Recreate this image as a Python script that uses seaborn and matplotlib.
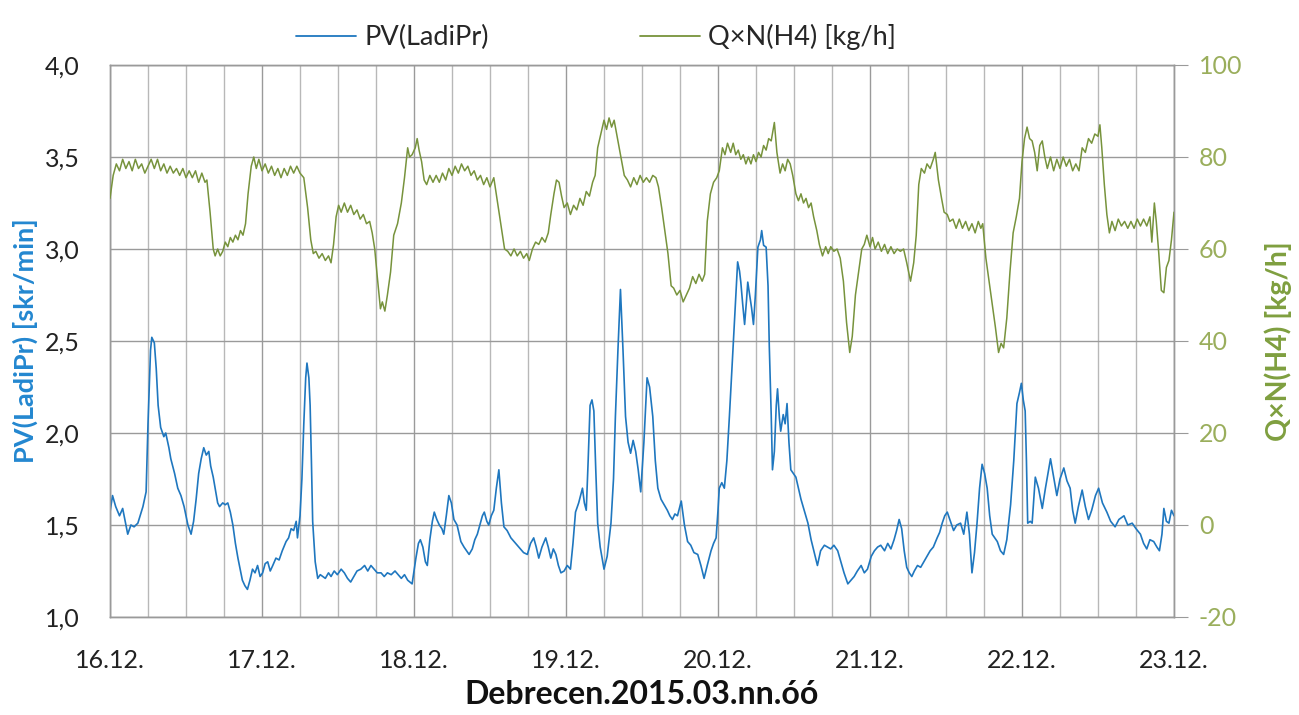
import numpy as np
import pandas as pd
import matplotlib
matplotlib.use("Agg")
import matplotlib.pyplot as plt
from matplotlib.ticker import FixedLocator, FuncFormatter
from matplotlib.lines import Line2D
import seaborn as sns

# ---------------- data (hours since 16.12. 00:00) ----------------
day_labels = ["16.12.", "17.12.", "18.12.", "19.12.", "20.12.", "21.12.", "22.12.", "23.12."]
pv_label = "PV(LadiPr)"
q_label = "Q×N(H4) [kg/h]"

pv_hours = [
    0, 0.4, 0.9, 1.5, 2.0, 2.4, 2.8, 3.3, 3.8, 4.4, 5.2, 5.7, 6.0, 6.4, 6.6, 7.0, 7.3, 7.6, 8.0, 8.5,
    8.8, 9.3, 9.6, 10.2, 10.7, 11.2, 11.7, 12.3, 12.8, 13.2, 13.6, 14.0, 14.4, 14.8, 15.2, 15.6, 15.9, 16.3, 16.7, 17.0,
    17.3, 17.8, 18.2, 18.6, 19.0, 19.4, 19.8, 20.2, 20.6, 20.9, 21.3, 21.7, 22.1, 22.5, 22.9, 23.3, 23.7, 24.1, 24.5, 24.9,
    25.3, 25.7, 26.2, 26.7, 27.2, 27.8, 28.2, 28.6, 29.0, 29.4, 29.6, 30.0, 30.3, 30.6, 30.9, 31.1, 31.4, 31.6, 31.8, 32.0,
    32.4, 32.8, 33.2, 33.6, 34.0, 34.5, 34.9, 35.4, 35.9, 36.5, 37.0, 37.5, 38.0, 38.5, 39.0, 39.6, 40.2, 40.7, 41.2, 41.7,
    42.2, 42.8, 43.3, 43.8, 44.4, 45.0, 45.5, 46.0, 46.5, 47.0, 47.7, 48.0, 48.3, 48.7, 49.0, 49.4, 49.8, 50.1, 50.5, 50.9,
    51.2, 51.6, 52.0, 52.4, 52.7, 53.1, 53.5, 53.9, 54.3, 54.8, 55.4, 55.9, 56.3, 56.7, 57.2, 57.6, 58.0, 58.4, 58.8, 59.1,
    59.5, 59.8, 60.2, 60.6, 61.0, 61.4, 61.8, 62.2, 62.7, 63.3, 63.8, 64.3, 64.8, 65.3, 65.9, 66.4, 66.9, 67.3, 67.7, 68.2,
    68.8, 69.2, 69.6, 70.0, 70.4, 70.8, 71.2, 71.7, 72.2, 72.7, 73.1, 73.5, 74.0, 74.3, 74.6, 74.9, 75.2, 75.5, 75.8, 76.1,
    76.4, 76.7, 77.0, 77.4, 78.0, 78.5, 79.1, 79.5, 79.8, 80.2, 80.6, 81.0, 81.4, 81.8, 82.2, 82.6, 83.0, 83.4, 83.8, 84.3,
    84.8, 85.2, 85.7, 86.1, 86.5, 87.0, 87.5, 88.0, 88.4, 88.8, 89.2, 89.6, 90.2, 90.7, 91.2, 91.7, 92.2, 92.8, 93.3, 93.8,
    94.3, 94.9, 95.3, 95.7, 96.0, 96.2, 96.6, 97.0, 97.4, 97.8, 98.2, 98.6, 99.1, 99.4, 99.6, 99.9, 100.2, 100.5, 100.7, 101.0,
    101.3, 101.6, 101.9, 102.3, 102.7, 102.9, 103.2, 103.6, 103.9, 104.1, 104.4, 104.6, 104.9, 105.2, 105.4, 105.7, 105.9, 106.3, 106.6, 106.9,
    107.2, 107.5, 107.9, 108.3, 108.7, 109.1, 109.6, 110.2, 110.7, 111.2, 111.7, 112.2, 112.8, 113.3, 113.8, 114.3, 114.9, 115.4, 115.9, 116.5,
    117.0, 117.5, 118.0, 118.6, 119.1, 119.6, 120.2, 120.7, 121.2, 121.7, 122.3, 122.8, 123.3, 123.8, 124.2, 124.6, 125.0, 125.4, 125.8, 126.2,
    126.6, 127.0, 127.5, 128.0, 128.5, 129.0, 129.5, 130.0, 130.6, 131.0, 131.4, 131.8, 132.2, 132.7, 133.2, 133.7, 134.3, 134.8, 135.3, 135.7,
    136.1, 136.5, 136.9, 137.3, 137.7, 138.1, 138.5, 138.9, 139.3, 139.7, 140.1, 140.6, 141.1, 141.6, 142.2, 142.7, 143.2, 143.6, 143.9, 144.2,
    144.5, 144.7, 144.9, 145.3, 145.6, 146.1, 146.6, 147.2, 147.7, 148.1, 148.5, 148.9, 149.5, 150.0, 150.6, 151.1, 151.6, 152.0, 152.4, 152.9,
    153.5, 154.0, 154.5, 155.0, 155.6, 156.1, 156.7, 157.4, 158.0, 158.7, 159.3, 160.1, 160.7, 161.4, 162.0, 162.7, 163.2, 163.7, 164.2, 164.8,
    165.3, 165.7, 166.1, 166.4, 166.8, 167.2, 167.6, 168.0,
]
pv_values = [
    1.57, 1.66, 1.60, 1.55, 1.59, 1.52, 1.45, 1.50, 1.49, 1.51, 1.60, 1.68, 2.05, 2.45, 2.52, 2.49, 2.35, 2.15, 2.03, 1.98,
    2.00, 1.92, 1.86, 1.78, 1.70, 1.66, 1.60, 1.50, 1.45, 1.52, 1.64, 1.78, 1.86, 1.92, 1.88, 1.90, 1.82, 1.76, 1.68, 1.62,
    1.60, 1.62, 1.61, 1.62, 1.57, 1.50, 1.40, 1.32, 1.25, 1.20, 1.17, 1.15, 1.20, 1.26, 1.24, 1.28, 1.22, 1.24, 1.29, 1.30,
    1.25, 1.28, 1.32, 1.31, 1.36, 1.41, 1.43, 1.48, 1.47, 1.52, 1.43, 1.55, 1.75, 2.05, 2.30, 2.38, 2.30, 2.15, 1.85, 1.52,
    1.30, 1.21, 1.23, 1.22, 1.21, 1.24, 1.22, 1.25, 1.23, 1.26, 1.24, 1.21, 1.19, 1.22, 1.25, 1.26, 1.28, 1.25, 1.28, 1.26,
    1.24, 1.24, 1.22, 1.24, 1.23, 1.25, 1.23, 1.21, 1.23, 1.20, 1.18, 1.25, 1.32, 1.40, 1.42, 1.38, 1.30, 1.28, 1.42, 1.52,
    1.57, 1.53, 1.50, 1.48, 1.45, 1.55, 1.66, 1.62, 1.53, 1.50, 1.41, 1.38, 1.36, 1.34, 1.37, 1.42, 1.45, 1.50, 1.55, 1.57,
    1.52, 1.50, 1.55, 1.58, 1.70, 1.80, 1.62, 1.49, 1.47, 1.43, 1.41, 1.39, 1.37, 1.35, 1.34, 1.40, 1.43, 1.38, 1.32, 1.38,
    1.43, 1.38, 1.32, 1.37, 1.34, 1.28, 1.24, 1.25, 1.28, 1.26, 1.40, 1.57, 1.62, 1.66, 1.70, 1.62, 1.58, 1.85, 2.15, 2.18,
    2.12, 1.80, 1.51, 1.38, 1.26, 1.33, 1.51, 1.75, 2.09, 2.45, 2.78, 2.45, 2.09, 1.95, 1.89, 1.96, 1.90, 1.80, 1.68, 1.95,
    2.30, 2.25, 2.09, 1.85, 1.70, 1.64, 1.61, 1.58, 1.55, 1.53, 1.56, 1.55, 1.63, 1.50, 1.41, 1.39, 1.35, 1.34, 1.28, 1.21,
    1.28, 1.36, 1.40, 1.43, 1.58, 1.70, 1.73, 1.70, 1.85, 2.09, 2.35, 2.62, 2.93, 2.88, 2.82, 2.70, 2.59, 2.72, 2.82, 2.75,
    2.68, 2.59, 2.75, 3.01, 3.05, 3.10, 3.02, 3.01, 2.80, 2.47, 2.10, 1.80, 1.90, 2.15, 2.24, 2.08, 2.01, 2.10, 2.05, 2.16,
    1.95, 1.80, 1.78, 1.76, 1.70, 1.64, 1.58, 1.51, 1.42, 1.35, 1.28, 1.36, 1.39, 1.38, 1.37, 1.39, 1.36, 1.30, 1.24, 1.18,
    1.20, 1.22, 1.25, 1.28, 1.24, 1.26, 1.33, 1.36, 1.38, 1.39, 1.36, 1.40, 1.37, 1.42, 1.47, 1.53, 1.48, 1.36, 1.27, 1.24,
    1.22, 1.25, 1.28, 1.27, 1.30, 1.33, 1.36, 1.38, 1.43, 1.46, 1.51, 1.55, 1.57, 1.52, 1.47, 1.50, 1.51, 1.45, 1.57, 1.45,
    1.24, 1.35, 1.51, 1.70, 1.83, 1.78, 1.70, 1.55, 1.45, 1.43, 1.41, 1.36, 1.34, 1.42, 1.61, 1.85, 2.16, 2.22, 2.27, 2.18,
    2.12, 1.85, 1.51, 1.52, 1.51, 1.76, 1.70, 1.59, 1.70, 1.78, 1.86, 1.78, 1.66, 1.75, 1.81, 1.74, 1.70, 1.58, 1.51, 1.60,
    1.69, 1.60, 1.53, 1.58, 1.66, 1.70, 1.62, 1.57, 1.52, 1.49, 1.53, 1.55, 1.50, 1.51, 1.48, 1.45, 1.40, 1.37, 1.42, 1.41,
    1.38, 1.36, 1.45, 1.59, 1.52, 1.51, 1.58, 1.55,
]

q_hours = [
    0, 0.5, 1.0, 1.5, 2.0, 2.5, 3.0, 3.5, 4.0, 4.5, 5.0, 5.5, 6.0, 6.5, 7.0, 7.5, 8.0, 8.5, 9.0, 9.5,
    10.0, 10.5, 11.0, 11.5, 12.0, 12.5, 13.0, 13.5, 14.0, 14.5, 15.0, 15.3, 15.8, 16.3, 16.6, 17.0, 17.4, 17.8, 18.2, 18.6,
    19.0, 19.4, 19.8, 20.2, 20.6, 21.0, 21.4, 21.8, 22.3, 22.7, 23.1, 23.5, 24.0, 24.5, 25.0, 25.5, 26.0, 26.5, 27.0, 27.5,
    28.0, 28.5, 29.0, 29.5, 30.0, 30.6, 31.2, 31.7, 32.1, 32.5, 33.0, 33.5, 34.0, 34.5, 34.9, 35.3, 35.7, 36.1, 36.5, 37.0,
    37.5, 38.0, 38.5, 39.0, 39.5, 40.0, 40.5, 41.0, 41.4, 41.8, 42.2, 42.7, 43.0, 43.4, 43.8, 44.3, 44.8, 45.4, 46.0, 46.5,
    47.0, 47.3, 47.7, 48.2, 48.5, 48.8, 49.2, 49.6, 50.0, 50.5, 51.0, 51.5, 52.0, 52.5, 53.0, 53.5, 54.0, 54.5, 55.0, 55.5,
    56.0, 56.5, 57.0, 57.5, 58.0, 58.5, 59.0, 59.5, 60.0, 60.6, 61.2, 61.7, 62.3, 62.8, 63.3, 63.8, 64.3, 64.8, 65.3, 65.8,
    66.2, 66.7, 67.2, 67.7, 68.2, 68.7, 69.2, 69.6, 70.1, 70.5, 70.9, 71.3, 71.7, 72.2, 72.7, 73.2, 73.7, 74.2, 74.7, 75.2,
    75.7, 76.2, 76.6, 77.0, 77.5, 78.0, 78.4, 78.8, 79.2, 79.6, 80.0, 80.4, 80.8, 81.2, 81.7, 82.2, 82.7, 83.2, 83.7, 84.2,
    84.7, 85.2, 85.7, 86.2, 86.6, 87.1, 87.6, 88.1, 88.6, 89.0, 89.5, 90.0, 90.5, 91.0, 91.5, 92.0, 92.5, 93.0, 93.5, 93.9,
    94.3, 94.8, 95.3, 95.8, 96.2, 96.7, 97.1, 97.5, 98.0, 98.4, 98.8, 99.2, 99.6, 100.0, 100.4, 100.8, 101.2, 101.6, 102.0, 102.4,
    102.8, 103.2, 103.6, 104.0, 104.4, 104.9, 105.3, 105.8, 106.2, 106.6, 107.0, 107.4, 107.8, 108.3, 108.7, 109.1, 109.5, 109.9, 110.3, 110.7,
    111.1, 111.6, 112.0, 112.5, 113.0, 113.4, 113.8, 114.3, 114.8, 115.3, 115.8, 116.3, 116.8, 117.2, 117.7, 118.2, 118.7, 119.1, 119.5, 120.0,
    120.4, 120.8, 121.3, 121.8, 122.3, 122.8, 123.3, 123.8, 124.3, 124.8, 125.3, 125.8, 126.4, 126.9, 127.3, 127.7, 128.1, 128.6, 129.0, 129.5,
    130.0, 130.3, 130.8, 131.3, 131.7, 132.2, 132.6, 133.1, 133.6, 134.1, 134.6, 135.1, 135.6, 136.1, 136.6, 137.1, 137.5, 137.8, 138.3, 138.8,
    139.3, 139.8, 140.3, 140.7, 141.1, 141.6, 142.1, 142.6, 143.1, 143.6, 144.0, 144.4, 144.8, 145.2, 145.6, 146.0, 146.4, 146.8, 147.2, 147.6,
    148.0, 148.5, 149.0, 149.5, 150.0, 150.5, 151.0, 151.5, 152.0, 152.5, 153.0, 153.5, 154.0, 154.5, 155.0, 155.5, 156.0, 156.3, 156.6, 157.0,
    157.4, 157.8, 158.2, 158.7, 159.2, 159.7, 160.2, 160.7, 161.2, 161.7, 162.2, 162.7, 163.2, 163.7, 164.2, 164.5, 164.9, 165.2, 165.6, 166.0,
    166.4, 166.8, 167.2, 167.6, 168.0,
]
q_values = [
    71, 76, 78.5, 77, 79.5, 77.5, 79, 77, 79.5, 77.5, 78.5, 76.5, 78, 79.5, 77.5, 79.5, 77, 78.5, 76.5, 78,
    76.5, 77.5, 76, 77.5, 75.5, 77, 75.5, 77, 74.5, 76.5, 74.5, 75, 68, 60, 58.5, 60, 58.5, 59.5, 61.5, 60.5,
    62.5, 61.5, 63, 62, 64, 63, 65.5, 72, 78, 80, 77.5, 79.5, 77, 78.5, 76.5, 78, 76, 77.5, 75.5, 77.5,
    76, 78, 76.5, 78, 76.5, 75.5, 69, 62, 59, 59.5, 58, 59, 57.5, 58.5, 57, 61, 67, 69.5, 68, 70,
    68, 69.5, 67.5, 68.5, 66.5, 67.5, 65.5, 66, 63.5, 60, 54, 47, 48.5, 46.5, 50, 55, 63, 65.5, 70, 75.5,
    82, 80, 80.5, 82, 84, 81.5, 79, 75, 74, 76, 74.5, 76, 74.5, 76.5, 75, 77.5, 76, 78, 76.5, 78.5,
    77, 78, 76, 77, 75, 76, 74, 75.5, 73.5, 75.5, 70, 65.5, 60, 59.5, 58.5, 60, 58.5, 59.5, 58, 59,
    57.5, 60, 61.5, 61, 62.5, 61.5, 63.5, 67.5, 72, 75, 74.5, 71.5, 69, 70, 67.5, 69.5, 68.5, 71, 69.5, 72.5,
    71.5, 74.5, 76, 82, 85, 88, 86, 88.5, 86.5, 88, 85, 82, 79, 76, 75, 73.5, 75.5, 74, 76, 74.5,
    75.5, 74.5, 76, 75.5, 73.5, 69, 64, 59, 52, 51.5, 50, 51, 48.5, 50, 51.5, 54, 52.5, 54.5, 53, 54.5,
    66, 72, 74.5, 75.5, 77, 82, 80.5, 83, 81, 83, 80.5, 81.5, 79.5, 80.5, 78.5, 80, 78.5, 80.5, 79, 81,
    80, 82.5, 81.5, 84, 83.5, 87.5, 81, 76.5, 78.5, 77, 79.5, 78.5, 76, 72, 70.5, 72, 70, 71, 69, 70,
    67, 64, 61, 58.5, 60.5, 59, 60.5, 59.5, 60, 58, 53, 44, 37.5, 41, 50, 55, 60, 61, 63, 60.5,
    62.5, 60, 61.5, 59.5, 61, 59, 60.5, 59, 60, 59.5, 60, 57, 53, 57, 63, 74, 77.5, 76.5, 78.5, 77.5,
    79.5, 81, 75, 71, 68, 67.5, 66, 66.5, 64.5, 66.5, 64.5, 66, 64, 65.5, 63.5, 66, 64.5, 65.5, 58, 53,
    48, 43, 37.5, 39.5, 38.5, 45, 55, 63.5, 67, 71, 79, 84, 86.5, 84, 83.5, 81, 77, 82.5, 83.5, 80,
    77.5, 80, 77, 79.5, 77.5, 80, 78, 79.5, 77, 78.5, 77, 82, 81, 84, 83, 85, 84.5, 87, 82, 74,
    67.5, 63.5, 66, 64, 66.5, 65, 66, 64.5, 66, 64.5, 66.5, 65, 66.5, 65, 67, 61.5, 70, 66, 59, 51,
    50.5, 56, 57.5, 62, 68,
]

df_pv = pd.DataFrame({"hour": pv_hours, "value": pv_values})
df_q = pd.DataFrame({"hour": q_hours, "value": q_values})

# ---------------- styling ----------------
sns.set_style("white")
plt.rcParams["font.family"] = ["Lato", "DejaVu Sans"]
plt.rcParams["axes.unicode_minus"] = False

BLUE = "#1f77bf"
BLUE_LABEL = "#2387d0"
GREEN = "#77933c"
GREEN_LABEL = "#7f9f3f"
GREEN_TICK = "#9aae5c"
GRID = "#9a9a9a"
GRID_MINOR = "#b8b8b8"

fig = plt.figure(figsize=(12.99, 7.15), dpi=100)
ax = fig.add_axes([110 / 1299, 1 - 617 / 715, (1174 - 110) / 1299, (617 - 65) / 715])
ax2 = ax.twinx()

sns.lineplot(data=df_pv, x="hour", y="value", ax=ax, color=BLUE, linewidth=1.2, zorder=3)
sns.lineplot(data=df_q, x="hour", y="value", ax=ax2, color=GREEN, linewidth=1.1, zorder=3)

ax.set_xlim(0, 168)
ax.set_ylim(1.0, 4.0)
ax2.set_ylim(-20, 100)

ax.xaxis.set_major_locator(FixedLocator([0, 24, 48, 72, 96, 120, 144, 168]))
ax.set_xticklabels(day_labels)
ax.xaxis.set_minor_locator(FixedLocator([h for h in range(0, 169, 6) if h % 24 != 0]))
ax.yaxis.set_major_locator(FixedLocator([1.0, 1.5, 2.0, 2.5, 3.0, 3.5, 4.0]))
ax.yaxis.set_major_formatter(FuncFormatter(lambda v, p: f"{v:.1f}".replace(".", ",")))
ax2.yaxis.set_major_locator(FixedLocator([-20, 0, 20, 40, 60, 80, 100]))
ax2.yaxis.set_major_formatter(FuncFormatter(lambda v, p: f"{int(v)}"))

ax.grid(True, which="major", axis="both", color=GRID, linewidth=1.0)
ax.grid(True, which="minor", axis="x", color=GRID_MINOR, linewidth=1.0)
ax.set_axisbelow(True)

for a in (ax, ax2):
    for s in a.spines.values():
        s.set_color(GRID)
        s.set_linewidth(1.0)

ax.tick_params(axis="x", which="both", direction="out", length=5, color=GRID_MINOR,
               labelsize=18, labelcolor="#222222", pad=18)
ax.tick_params(axis="y", which="both", length=0, labelsize=18, labelcolor="#222222", pad=22)
ax2.tick_params(axis="y", direction="out", length=10, color=GRID, labelsize=18,
                labelcolor=GREEN_TICK, pad=8)

ax.set_xlabel("Debrecen.2015.03.nn.óó", fontsize=23, fontweight="bold", color="#111111", labelpad=6)
ax.set_ylabel("PV(LadiPr) [skr/min]", fontsize=19.5, fontweight="bold", color=BLUE_LABEL, labelpad=5)
ax2.set_ylabel("Q×N(H4) [kg/h]", fontsize=20.5, fontweight="bold", color=GREEN_LABEL, labelpad=16)

handles = [Line2D([], [], color=BLUE, linewidth=1.3), Line2D([], [], color=GREEN, linewidth=1.3)]
fig.legend(handles, [pv_label, q_label], loc="upper center", bbox_to_anchor=(0.459, 1.0),
           ncol=2, frameon=False, fontsize=19.5, handlelength=2.2, handletextpad=0.3,
           columnspacing=5.6)

fig.savefig("out.png", dpi=100)
